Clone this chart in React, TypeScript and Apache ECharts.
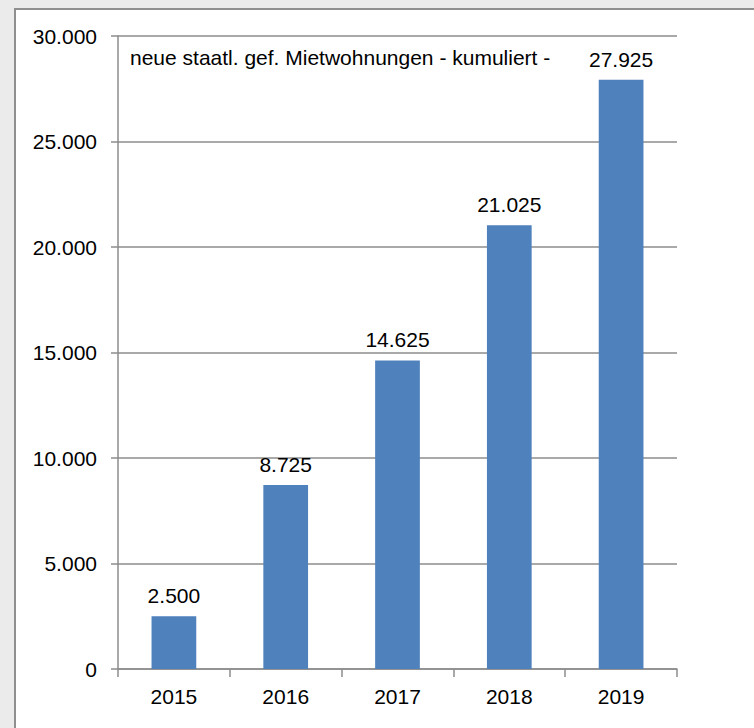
import React, { useEffect, useRef } from "react";
import * as echarts from "echarts";

const categories = ["2015", "2016", "2017", "2018", "2019"];
const values = [2500, 8725, 14625, 21025, 27925];
const chartTitle = "neue staatl. gef. Mietwohnungen - kumuliert -";
const yMin = 0;
const yMax = 30000;
const yInterval = 5000;

const fmt = (v: number) => String(v).replace(/\B(?=(\d{3})+(?!\d))/g, ".");

export default function App() {
  const ref = useRef<HTMLDivElement>(null);
  useEffect(() => {
    if (!ref.current) return;
    const chart = echarts.init(ref.current, null, { renderer: "svg" });
    const font = "Liberation Sans";
    const grey = "#8c8c8c";
    const fs = 21;
    chart.setOption({
      animation: false,
      backgroundColor: "#ebebeb",
      textStyle: { fontFamily: font },
      graphic: [
        {
          type: "rect",
          z: -10,
          shape: { x: 15, y: 9, width: 800, height: 800 },
          style: { fill: "#ffffff", stroke: "#8f8f8f", lineWidth: 2 },
          silent: true,
        },
        {
          type: "text",
          left: 130,
          top: 47,
          z: 10,
          style: { text: chartTitle, fill: "#000", font: `${fs}px "${font}"` },
        },
      ],
      grid: { left: 118, right: 77, top: 36, bottom: 59, containLabel: false },
      xAxis: {
        type: "category",
        data: categories,
        boundaryGap: true,
        axisLine: { show: true, lineStyle: { color: grey, width: 1.5 } },
        axisTick: { show: true, alignWithLabel: false, length: 8, lineStyle: { color: grey, width: 1.5 } },
        axisLabel: { color: "#000", fontSize: fs, fontFamily: font, margin: 17 },
        splitLine: { show: false },
      },
      yAxis: {
        type: "value",
        min: yMin,
        max: yMax,
        interval: yInterval,
        axisLine: { show: true, lineStyle: { color: grey, width: 1.5 } },
        axisTick: { show: true, length: 7, lineStyle: { color: grey, width: 1.5 } },
        axisLabel: { color: "#000", fontSize: fs, fontFamily: font, margin: 21, formatter: (v: number) => fmt(v) },
        splitLine: { show: true, lineStyle: { color: grey, width: 1.5 } },
      },
      series: [
        {
          type: "bar",
          data: values,
          barWidth: "40%",
          itemStyle: { color: "#4f81bd" },
          label: {
            show: true,
            position: "top",
            distance: 10,
            color: "#000",
            fontSize: fs,
            fontFamily: font,
            formatter: (p: any) => fmt(p.value),
          },
        },
      ],
    });
    return () => chart.dispose();
  }, []);
  return (
    <div style={{ position: "fixed", left: 0, top: 0, width: 754, height: 728 }}>
      <div ref={ref} style={{ width: 754, height: 728 }} />
    </div>
  );
}
